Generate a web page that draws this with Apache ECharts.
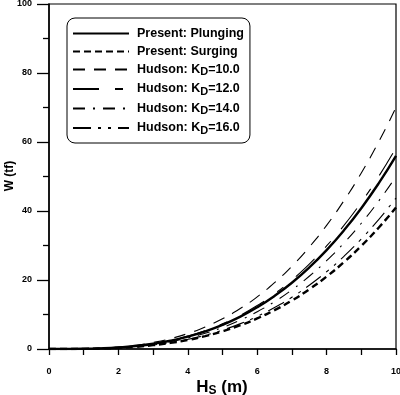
<!DOCTYPE html>
<html>
<head>
<meta charset="utf-8">
<script src="https://cdn.jsdelivr.net/npm/echarts@6/dist/echarts.min.js"></script>
<style>html,body{margin:0;padding:0;background:#fff}#c{width:400px;height:395px}</style>
</head>
<body>
<div id="c"></div>
<script>
var hs = [0,0.5,1,1.5,2,2.5,3,3.5,4,4.5,5,5.5,6,6.5,7,7.5,8,8.5,9,9.5,10];
var plunging = [0,0.01,0.06,0.19,0.45,0.88,1.51,2.40,3.58,5.10,7.00,9.32,12.10,15.38,19.21,23.63,28.67,34.39,40.82,48.01,56.0];
var surging  = [0,0.01,0.04,0.14,0.33,0.64,1.11,1.76,2.62,3.74,5.13,6.82,8.86,11.26,14.06,17.30,20.99,25.18,29.89,35.15,41.0];
var kd10 = [0,0.01,0.07,0.24,0.56,1.09,1.89,3.00,4.48,6.38,8.75,11.65,15.12,19.22,24.01,29.53,35.84,42.99,51.03,60.02,70.0];
var kd12 = [0,0.01,0.06,0.20,0.47,0.91,1.57,2.50,3.73,5.31,7.29,9.70,12.60,16.02,20.01,24.61,29.87,35.82,42.53,50.01,58.33];
var kd14 = [0,0.01,0.05,0.17,0.40,0.78,1.35,2.14,3.20,4.56,6.25,8.32,10.80,13.73,17.15,21.09,25.60,30.71,36.45,42.87,50.0];
var kd16 = [0,0.01,0.04,0.15,0.35,0.68,1.18,1.88,2.80,3.99,5.47,7.28,9.45,12.01,15.01,18.46,22.40,26.87,31.89,37.51,43.75];
var seriesNames = ['Present: Plunging','Present: Surging','Hudson: KD=10.0','Hudson: KD=12.0','Hudson: KD=14.0','Hudson: KD=16.0'];
var xTitle = '{b|H}{s|S}{b| (m)}';
var yTitle = 'W (tf)';

function pairs(v){ return hs.map(function(h,i){ return [h, v[i]]; }); }
var FONT = '"Liberation Sans", Arial, sans-serif';
function mk(name, vals, width, type){
  return {
    name: name, type: 'line', data: pairs(vals), smooth: true, symbol: 'none', showSymbol: false,
    lineStyle: { color: '#000', width: width, type: type }, itemStyle: { color: '#000' },
    emphasis: { disabled: true }, silent: true, animation: false
  };
}
var chart = echarts.init(document.getElementById('c'));
chart.setOption({
  animation: false,
  backgroundColor: '#fff',
  grid: { left: 49, right: 4, top: 4, bottom: 46, show: true, borderColor: '#000', borderWidth: 1.2, backgroundColor: 'transparent', containLabel: false, outerBoundsMode: 'none' },
  legend: {
    left: 67, top: 18, orient: 'vertical',
    data: seriesNames,
    itemWidth: 56, itemHeight: 12, itemGap: 5,
    padding: [9, 6, 7, 5],
    borderColor: '#000', borderWidth: 1, borderRadius: 8, backgroundColor: '#fff',
    itemStyle: { opacity: 0 },
    textStyle: { fontFamily: FONT, fontWeight: 'bold', fontSize: 12.5, color: '#000', padding: [0,0,0,3],
      rich: { sub: { fontFamily: FONT, fontWeight: 'bold', fontSize: 11, color: '#000', verticalAlign: 'bottom', padding: [5,0,0,0] } } },
    formatter: function(n){ return n.replace('KD', 'K{sub|D}'); },
    selectedMode: false
  },
  graphic: [
    { type: 'text', x: 222, y: 387, silent: true,
      style: { text: xTitle, align: 'center', verticalAlign: 'middle',
        rich: {
          b: { fontFamily: FONT, fontWeight: 'bold', fontSize: 17, fill: '#000', color: '#000' },
          s: { fontFamily: FONT, fontWeight: 'bold', fontSize: 12, fill: '#000', color: '#000', verticalAlign: 'bottom', padding: [8,0,0,0] } } } },
    { type: 'text', x: 10, y: 176, rotation: Math.PI / 2, silent: true,
      style: { text: yTitle, align: 'center', verticalAlign: 'middle', fontFamily: FONT, fontWeight: 'bold', fontSize: 12, fill: '#000' } }
  ],
  xAxis: {
    type: 'value', min: 0, max: 10, interval: 2,
    axisLine: { lineStyle: { color: '#000', width: 1.5 } },
    axisTick: { show: true, length: 6, lineStyle: { color: '#000', width: 1.3 } },
    minorTick: { show: true, splitNumber: 2, length: 6, lineStyle: { color: '#000', width: 1.3 } },
    axisLabel: { fontFamily: FONT, fontWeight: 'bold', fontSize: 9, color: '#000', margin: 18 },
    splitLine: { show: false }
  },
  yAxis: {
    type: 'value', min: 0, max: 100, interval: 20,
    axisLine: { show: true, lineStyle: { color: '#000', width: 1.5 } },
    axisTick: { show: true, length: 12, lineStyle: { color: '#000', width: 1.3 } },
    minorTick: { show: true, splitNumber: 2, length: 6, lineStyle: { color: '#000', width: 1.3 } },
    axisLabel: { fontFamily: FONT, fontWeight: 'bold', fontSize: 9, color: '#000', margin: 17 },
    splitLine: { show: false }
  },
  series: [
    mk(seriesNames[0], plunging, 2.4, 'solid'),
    mk(seriesNames[1], surging, 2.4, [7, 4]),
    mk(seriesNames[2], kd10, 1.1, [12, 9]),
    mk(seriesNames[3], kd12, 1.1, [26, 16, 8, 16]),
    mk(seriesNames[4], kd14, 1.1, [12, 8, 2, 8]),
    mk(seriesNames[5], kd16, 1.1, [18, 7, 3, 7, 3, 7])
  ]
});
</script>
</body>
</html>
